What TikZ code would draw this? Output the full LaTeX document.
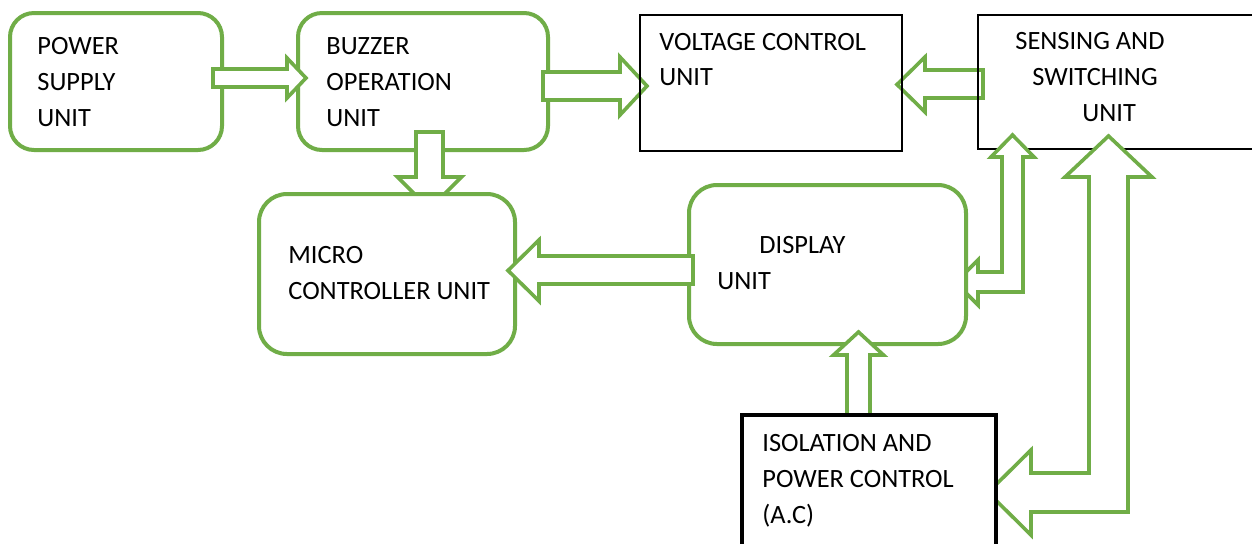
\documentclass[tikz,border=0pt]{standalone}
\usepackage{fontspec}
\setmainfont{Carlito}
\definecolor{ogreen}{HTML}{70AD47}
\begin{document}
\begin{tikzpicture}[x=0.5pt,y=-0.5pt,
  gbox/.style={draw=ogreen, line width=2pt, fill=white, rectangle, inner sep=0pt, outer sep=0pt, anchor=north west},
  kbox/.style={draw=black, line width=0.8pt, rectangle, inner sep=0pt, outer sep=0pt, anchor=north west},
  tbox/.style={draw=black, line width=2pt, fill=white, rectangle, inner sep=0pt, outer sep=0pt, anchor=north west},
  barrow/.style={draw=ogreen, line width=1.8pt, fill=white, line join=miter},
  lbl/.style={anchor=base west, inner sep=0pt, font=\fontsize{13.2}{15}\selectfont}]
\useasboundingbox (0,0) rectangle (1252,543);
\clip (0,0) rectangle (1252,543);
\fill[white] (0,0) rectangle (1252,543);

% sensing box (bottom edge below arrows)
\node[kbox, fill=white, minimum width=142pt, minimum height=67pt] (ss) at (978,15) {};

% green boxes
\node[gbox, rounded corners=12pt, minimum width=106pt, minimum height=68.5pt] (pw) at (10,13) {};
\node[gbox, rounded corners=12pt, minimum width=125pt, minimum height=68.5pt] (bz) at (298,13) {};

% buzzer -> micro (under micro box)
\draw[barrow] (416,132) -- (443,132) -- (443,177) -- (461.5,177) -- (429.5,209)
  -- (397.5,177) -- (416,177) -- cycle;

\node[gbox, rounded corners=14pt, minimum width=128pt, minimum height=80pt] (mc) at (259,194) {};

% L-shaped arrows
\draw[barrow] (1012.5,135) -- (1034,157) -- (1023,157) -- (1023,292) -- (978,292)
  -- (978,305) -- (955.5,282.5) -- (978,260) -- (978,272) -- (1002,272)
  -- (1002,157) -- (991,157) -- cycle;
\draw[barrow] (1108.5,136) -- (1152,177) -- (1128,177) -- (1128,512) -- (1031,512)
  -- (1031,535) -- (988,492.5) -- (1031,450) -- (1031,473) -- (1089,473)
  -- (1089,177) -- (1065,177) -- cycle;

\node[gbox, rounded corners=14pt, minimum width=138.5pt, minimum height=79.5pt] (dp) at (689,185) {};

% display -> micro
\draw[barrow] (693,256) -- (539,256) -- (539,240) -- (508,270.5) -- (539,301)
  -- (539,284) -- (693,284) -- cycle;
% isolation -> display
\draw[barrow] (847,415) -- (847,355) -- (833.5,355) -- (858.5,332) -- (883.5,355)
  -- (870,355) -- (870,415);

% power -> buzzer
\draw[barrow] (213,69) -- (287,69) -- (287,58) -- (306,78) -- (287,98) -- (287,87)
  -- (213,87) -- cycle;
% buzzer -> voltage
\draw[barrow] (543,72) -- (620,72) -- (620,57) -- (647,86) -- (620,115) -- (620,100)
  -- (543,100) -- cycle;
% sensing -> voltage
\draw[barrow] (983,70) -- (925,70) -- (925,57) -- (897,84.5) -- (925,112) -- (925,98)
  -- (983,98) -- cycle;

% black boxes on top
\node[kbox, minimum width=131pt, minimum height=68pt] (vc) at (640,15) {};
\draw[black, line width=0.8pt] (ss.north west) -- (ss.south west);
\node[tbox, minimum width=127pt, minimum height=77.5pt] (iso) at (742,415) {};

% texts
\node[lbl] (pw1) at (37,54) {POWER};
\node[lbl] (pw2) at (37,90) {SUPPLY};
\node[lbl] (pw3) at (37,126) {UNIT};
\node[lbl] (bz1) at (326,54) {BUZZER};
\node[lbl] (bz2) at (326,90) {OPERATION};
\node[lbl] (bz3) at (326,126) {UNIT};
\node[lbl] (vc1) at (659,50) {VOLTAGE CONTROL};
\node[lbl] (vc2) at (659,85) {UNIT};
\node[lbl] (ss1) at (1015,49) {SENSING AND};
\node[lbl] (ss2) at (1032,85) {SWITCHING};
\node[lbl] (ss3) at (1082,121) {UNIT};
\node[lbl] (mc1) at (288,263) {MICRO};
\node[lbl] (mc2) at (288,299) {CONTROLLER UNIT};
\node[lbl] (dp1) at (759,253) {DISPLAY};
\node[lbl] (dp2) at (717,289) {UNIT};
\node[lbl] (is1) at (762,451) {ISOLATION AND};
\node[lbl] (is2) at (762,487) {POWER CONTROL};
\node[lbl] (is3) at (762,523) {(A.C)};
\end{tikzpicture}
\end{document}
